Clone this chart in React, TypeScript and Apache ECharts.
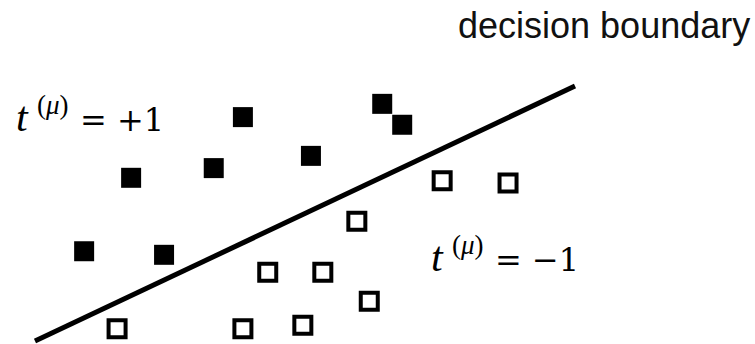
import React, { useEffect, useRef } from "react";
import * as echarts from "echarts";

// class +1 (filled squares)
const posX = [3.85, 1.78, 3.31, 5.11, 6.43, 6.80, 0.91, 2.39];
const posY = [4.39, 3.20, 3.39, 3.63, 4.65, 4.24, 1.76, 1.69];
// class -1 (open squares)
const negX = [7.54, 8.76, 5.96, 4.31, 5.33, 6.19, 1.52, 3.85, 4.96];
const negY = [3.14, 3.10, 2.35, 1.35, 1.35, 0.78, 0.24, 0.24, 0.31];
// decision boundary end points
const lineX = [0, 10];
const lineY = [0, 5];

const boundaryLabel = "decision boundary";
const posLabel = "= +1";
const negLabel = "= \u22121";

const LSERIF = '"Liberation Serif", serif';
const DSERIF = '"DejaVu Serif", serif';

function mathLabel(ox: number, baseline: number, rhs: string) {
  return [
    {
      type: "text",
      x: ox - 1,
      y: baseline - 0.3375 * 42,
      style: { text: "t", fontFamily: LSERIF, fontStyle: "italic", fontSize: 42, fill: "#000", align: "left", verticalAlign: "middle" },
    },
    {
      type: "text",
      x: ox + 20,
      y: baseline - 17 - 0.3375 * 27,
      style: {
        text: "{n|(}{i|\u03bc}{n|)}",
        fill: "#000",
        align: "left",
        verticalAlign: "middle",
        rich: {
          n: { fontFamily: LSERIF, fontSize: 27, fill: "#000" },
          i: { fontFamily: LSERIF, fontSize: 27, fontStyle: "italic", fill: "#000" },
        },
      },
    },
    {
      type: "text",
      x: ox + 63,
      y: baseline - 0.346 * 32,
      style: { text: rhs, fontFamily: DSERIF, fontSize: 32, fill: "#000", align: "left", verticalAlign: "middle" },
    },
  ];
}

export default function App() {
  const ref = useRef<HTMLDivElement>(null);
  useEffect(() => {
    if (!ref.current) return;
    const chart = echarts.init(ref.current, undefined, { renderer: "svg" });
    chart.setOption({
      animation: false,
      backgroundColor: "#fff",
      grid: { left: 35, right: 180, top: 86, bottom: 3 },
      xAxis: { type: "value", min: 0, max: 10, show: false },
      yAxis: { type: "value", min: 0, max: 5, show: false },
      series: [
        {
          type: "line",
          data: lineX.map((x, i) => [x, lineY[i]]),
          symbol: "none",
          clip: false,
          lineStyle: { color: "#000", width: 5 },
          z: 1,
        },
        {
          type: "scatter",
          data: posX.map((x, i) => [x, posY[i]]),
          symbol: "rect",
          symbolSize: 20,
          clip: false,
          itemStyle: { color: "#000", opacity: 1 },
          z: 2,
        },
        {
          type: "scatter",
          data: negX.map((x, i) => [x, negY[i]]),
          symbol: "rect",
          symbolSize: 17,
          clip: false,
          itemStyle: { color: "#fff", borderColor: "#000", borderWidth: 4, opacity: 1 },
          z: 2,
        },
      ],
      graphic: [
        ...mathLabel(17, 131, posLabel),
        ...mathLabel(432, 271, negLabel),
        {
          type: "text",
          x: 458,
          y: 25,
          style: {
            text: boundaryLabel,
            fontFamily: '"Liberation Sans", Arial, sans-serif',
            fontSize: 36,
            fill: "#111",
            align: "left",
            verticalAlign: "middle",
          },
        },
      ],
    });
    return () => chart.dispose();
  }, []);
  return (
    <div
      ref={ref}
      style={{ position: "fixed", left: 0, top: 0, width: 755, height: 344, background: "#fff" }}
    />
  );
}
